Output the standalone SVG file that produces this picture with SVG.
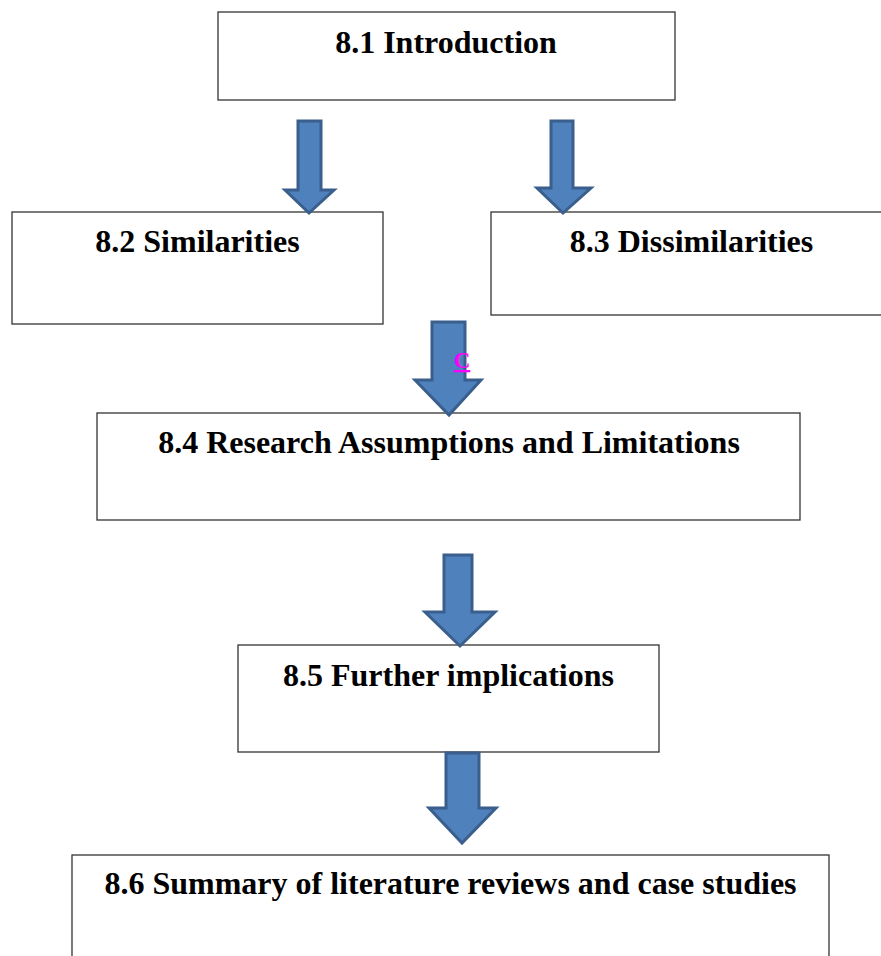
<svg xmlns="http://www.w3.org/2000/svg" width="881" height="956" viewBox="0 0 881 956">
<style>
.box{fill:#fff;stroke:#333;stroke-width:1.3}
.lbl{font-family:"Liberation Serif","Times New Roman",serif;font-weight:bold;font-size:32px;fill:#000;text-anchor:middle}
.arr{fill:#4F81BD;stroke:#3A5F8C;stroke-width:3;stroke-linejoin:miter}
</style>
<rect width="881" height="956" fill="#fff"/>
<g id="n81"><rect class="box" x="218" y="12" width="457" height="88"/><text class="lbl" x="446" y="53">8.1 Introduction</text></g>
<g id="n82"><rect class="box" x="12" y="212" width="371" height="112"/><text class="lbl" x="197.5" y="252">8.2 Similarities</text></g>
<g id="n83"><rect class="box" x="491" y="212" width="395" height="103"/><text class="lbl" x="691.5" y="252">8.3 Dissimilarities</text></g>
<g id="n84"><rect class="box" x="97" y="413" width="703" height="107"/><text class="lbl" x="449" y="453">8.4 Research Assumptions and Limitations</text></g>
<g id="n85"><rect class="box" x="238" y="645" width="421" height="107"/><text class="lbl" x="448.5" y="686">8.5 Further implications</text></g>
<g id="n86"><rect class="box" x="72" y="855" width="757" height="110"/><text class="lbl" x="450.5" y="894">8.6 Summary of literature reviews and case studies</text></g>
<g id="connectors">
<polygon class="arr" points="298,121 321,121 321,190 334,190 309,213 285,190 298,190"/>
<polygon class="arr" points="551,121 573,121 573,188 591,188 563,213 537,188 551,188"/>
<polygon class="arr" points="432,322 465,322 465,380 481,380 449,415 415,380 432,380"/>
<polygon class="arr" points="444,555 472,555 472,612 495,612 460,646 425,612 444,612"/>
<polygon class="arr" points="446,753 479,753 479,808 496,808 462,843 429,808 446,808"/>
</g>
<text x="462" y="368" font-family="Liberation Serif, serif" font-weight="bold" font-size="23" fill="#FF00FF" text-anchor="middle" text-decoration="underline">C</text>
</svg>
